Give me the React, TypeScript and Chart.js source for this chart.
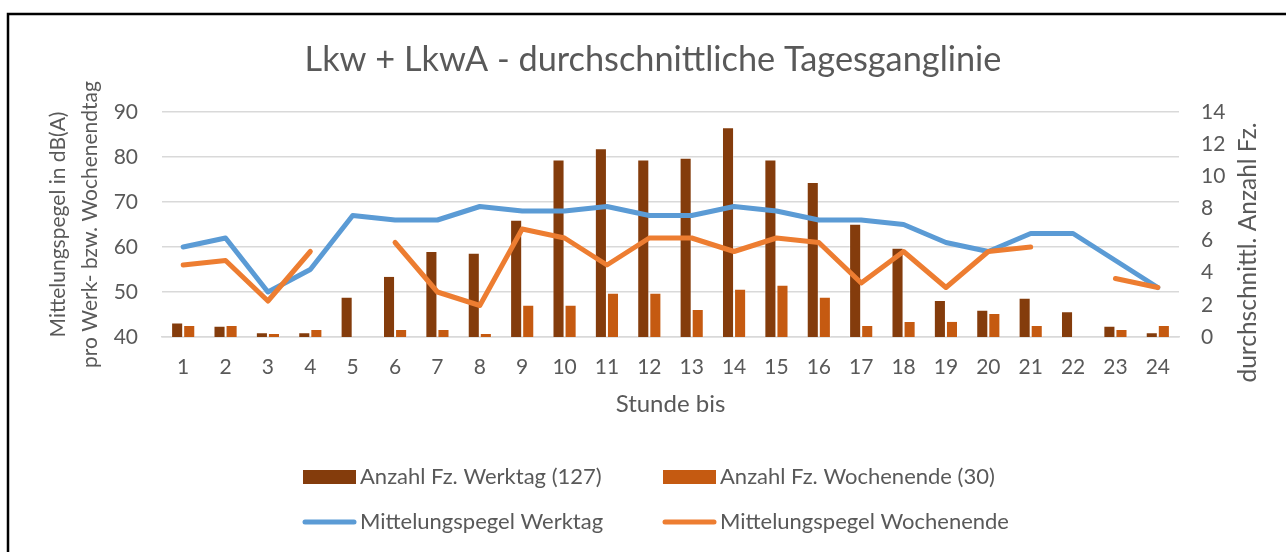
import { useEffect, useRef } from 'react';
import { Chart, registerables } from 'chart.js';

Chart.register(...registerables);

const FONT = 'Lato, "Open Sans", sans-serif';
const GREY = '#595959';
const GRID = '#D9D9D9';

const TITLE = 'Lkw + LkwA - durchschnittliche Tagesganglinie';
const X_TITLE = 'Stunde bis';
const Y_TITLE = ['Mittelungspegel in dB(A)', 'pro Werk- bzw. Wochenendtag'];
const Y1_TITLE = 'durchschnittl. Anzahl Fz.';

const hours = ['1', '2', '3', '4', '5', '6', '7', '8', '9', '10', '11', '12', '13', '14', '15', '16', '17', '18', '19', '20', '21', '22', '23', '24'];

const anzahlWerktag = [0.9, 0.7, 0.3, 0.3, 2.5, 3.8, 5.35, 5.25, 7.3, 11.05, 11.75, 11.05, 11.15, 13.05, 11.05, 9.65, 7.05, 5.55, 2.3, 1.7, 2.45, 1.6, 0.7, 0.3];
const anzahlWochenende = [0.75, 0.75, 0.25, 0.5, null, 0.5, 0.5, 0.25, 2, 2, 2.75, 2.75, 1.75, 3, 3.25, 2.5, 0.75, 1, 1, 1.5, 0.75, null, 0.5, 0.75];

const pegelWerktag = [60, 62, 50, 55, 67, 66, 66, 69, 68, 68, 69, 67, 67, 69, 68, 66, 66, 65, 61, 59, 63, 63, 57, 51];
const pegelWochenende = [56, 57, 48, 59, null, 61, 50, 47, 64, 62, 56, 62, 62, 59, 62, 61, 52, 59, 51, 59, 60, null, 53, 51];

const overlayPlugin = {
  id: 'overlay',
  afterDraw(chart: any) {
    const ctx = chart.ctx as CanvasRenderingContext2D;
    ctx.save();
    // frame (top + left)
    ctx.strokeStyle = '#000';
    ctx.lineWidth = 2.5;
    ctx.beginPath();
    ctx.moveTo(1286, 14);
    ctx.lineTo(8, 14);
    ctx.lineTo(8, 552);
    ctx.stroke();

    // chart title
    ctx.fillStyle = GREY;
    ctx.font = `34.3px ${FONT}`;
    ctx.textAlign = 'center';
    ctx.textBaseline = 'middle';
    ctx.fillText(TITLE, 653, 60);

    // right axis title (reading upwards)
    ctx.font = `24.5px ${FONT}`;
    ctx.translate(1248, 252.5);
    ctx.rotate(-Math.PI / 2);
    ctx.fillText(Y1_TITLE, 0, 0);
    ctx.restore();

    // legend 2x2
    ctx.save();
    const ds = chart.data.datasets;
    const cells = [
      { d: ds[0], x: 303, y: 477 },
      { d: ds[1], x: 663, y: 477 },
      { d: ds[2], x: 303, y: 522 },
      { d: ds[3], x: 663, y: 522 },
    ];
    ctx.font = `22px ${FONT}`;
    ctx.textBaseline = 'middle';
    ctx.textAlign = 'left';
    for (const c of cells) {
      if (c.d.type === 'bar') {
        ctx.fillStyle = c.d.backgroundColor;
        ctx.fillRect(c.x, c.y - 7, 53, 14);
      } else {
        ctx.strokeStyle = c.d.borderColor;
        ctx.lineWidth = 5;
        ctx.lineCap = 'round';
        ctx.beginPath();
        ctx.moveTo(c.x + 2, c.y);
        ctx.lineTo(c.x + 51, c.y);
        ctx.stroke();
      }
      ctx.fillStyle = GREY;
      ctx.fillText(c.d.label, c.x + 57, c.y);
    }
    ctx.restore();
  },
};

export default function App() {
  const ref = useRef<HTMLCanvasElement>(null);
  useEffect(() => {
    document.body.style.margin = '0';
    const chart = new Chart(ref.current as HTMLCanvasElement, {
      type: 'bar',
      data: {
        labels: hours,
        datasets: [
          {
            type: 'bar',
            label: 'Anzahl Fz. Werktag (127)',
            data: anzahlWerktag,
            backgroundColor: '#843C0C',
            borderColor: 'rgba(255,255,255,0.35)',
            borderWidth: 1,
            yAxisID: 'y1',
            order: 3,
            categoryPercentage: 0.57,
            barPercentage: 1,
          },
          {
            type: 'bar',
            label: 'Anzahl Fz. Wochenende (30)',
            data: anzahlWochenende,
            backgroundColor: '#C55A11',
            borderColor: 'rgba(255,255,255,0.35)',
            borderWidth: 1,
            yAxisID: 'y1',
            order: 3,
            categoryPercentage: 0.57,
            barPercentage: 1,
          },
          {
            type: 'line',
            label: 'Mittelungspegel Werktag',
            data: pegelWerktag,
            borderColor: '#5B9BD5',
            backgroundColor: '#5B9BD5',
            borderWidth: 5,
            borderCapStyle: 'round',
            borderJoinStyle: 'round',
            pointRadius: 0,
            tension: 0,
            spanGaps: false,
            yAxisID: 'y',
            order: 2,
          },
          {
            type: 'line',
            label: 'Mittelungspegel Wochenende',
            data: pegelWochenende,
            borderColor: '#ED7D31',
            backgroundColor: '#ED7D31',
            borderWidth: 5,
            borderCapStyle: 'round',
            borderJoinStyle: 'round',
            pointRadius: 0,
            tension: 0,
            spanGaps: false,
            yAxisID: 'y',
            order: 1,
          },
        ] as any,
      },
      options: {
        responsive: false,
        animation: false,
        layout: { padding: { top: 112, bottom: 133, left: 0, right: 0 } },
        plugins: {
          title: { display: false },
          legend: { display: false },
          tooltip: { enabled: false },
        },
        scales: {
          x: {
            grid: { display: false, drawTicks: false },
            border: { display: true, color: GRID, width: 1.5 },
            ticks: { color: GREY, font: { family: FONT, size: 21 }, padding: 18 },
            title: {
              display: true,
              text: X_TITLE,
              color: GREY,
              font: { family: FONT, size: 24, lineHeight: 1.2 },
              padding: { top: 0, bottom: 0 },
            },
            afterFit: (s: any) => { s.height = 82; },
          },
          y: {
            position: 'left',
            min: 40,
            max: 90,
            ticks: { stepSize: 10, color: GREY, font: { family: FONT, size: 21 }, padding: 24 },
            grid: { color: GRID, lineWidth: 1.5, drawTicks: false },
            border: { display: false },
            title: {
              display: true,
              text: Y_TITLE,
              color: GREY,
              font: { family: FONT, size: 21, lineHeight: 32 / 21 },
              padding: { top: 42, bottom: 0 },
            },
            afterFit: (s: any) => { s.width = 162; },
          },
          y1: {
            position: 'right',
            min: 0,
            max: 14,
            ticks: { stepSize: 2, color: GREY, font: { family: FONT, size: 21 }, padding: 22 },
            grid: { display: false, drawTicks: false },
            border: { display: false },
            afterFit: (s: any) => { s.width = 107; },
          },
        },
      } as any,
      plugins: [overlayPlugin],
    });
    return () => chart.destroy();
  }, []);
  return (
    <div style={{ width: 1286, height: 552 }}>
      <canvas ref={ref} width={1286} height={552} style={{ display: 'block' }} />
    </div>
  );
}
